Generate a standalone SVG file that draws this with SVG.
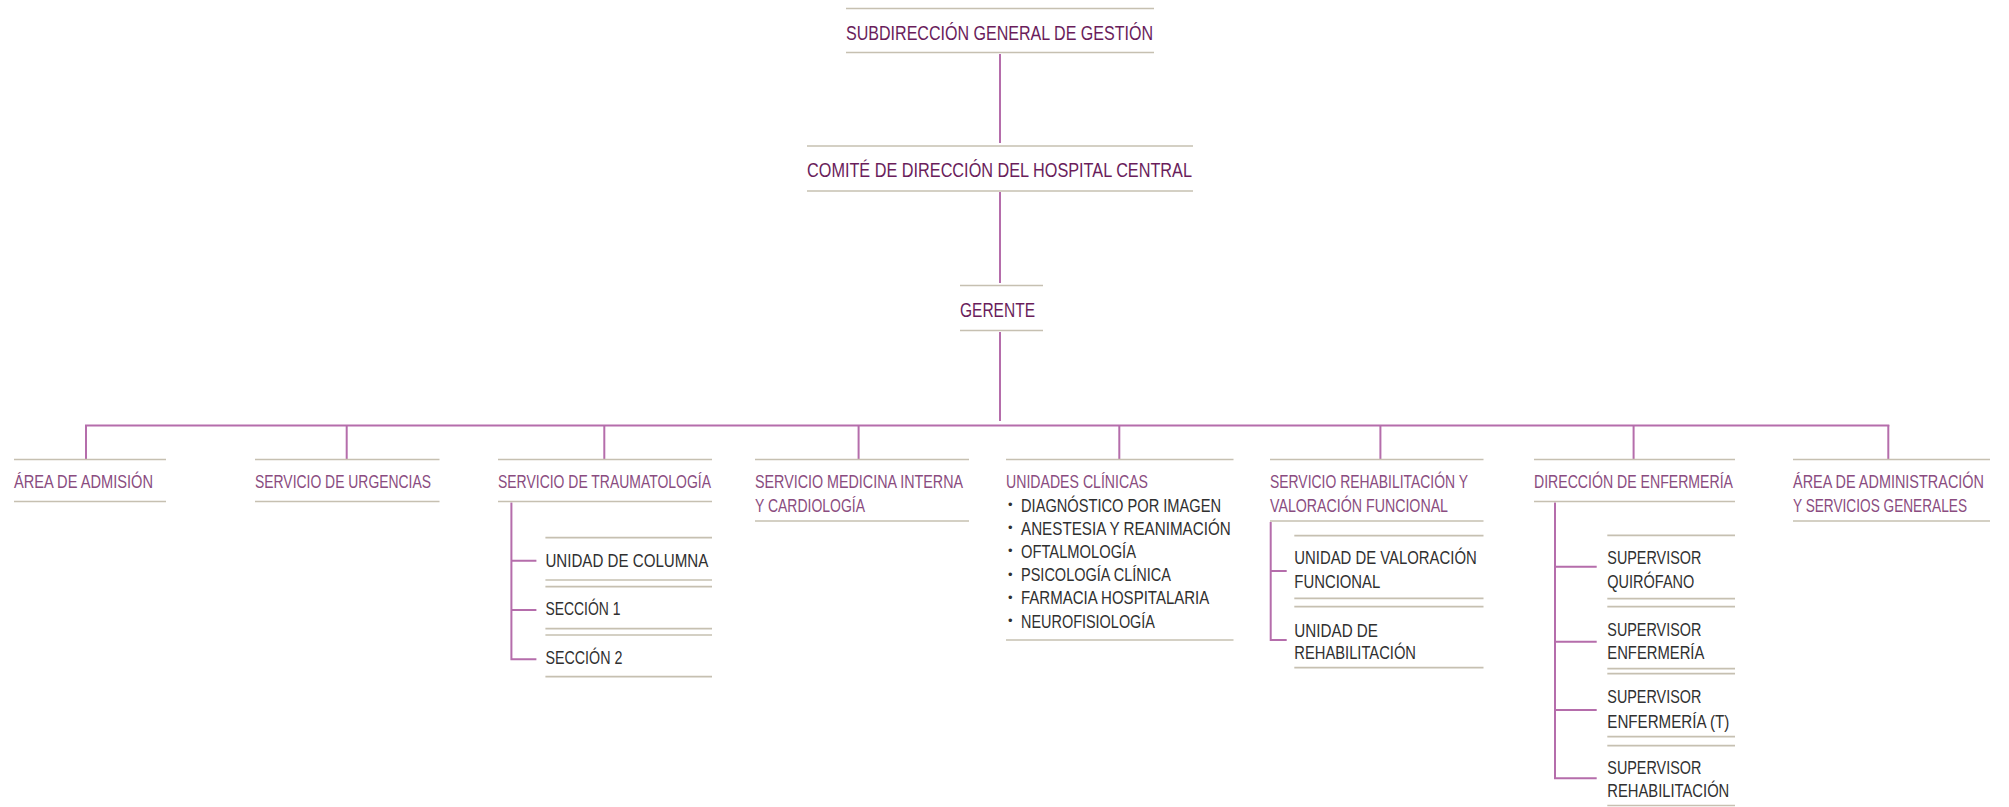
<svg xmlns="http://www.w3.org/2000/svg" width="2009" height="807" viewBox="0 0 2009 807">
<style>
.bg{fill:#ffffff}
.sep{stroke:#c6c0b1;stroke-width:1.7;fill:none}
.con{stroke:#b56dab;stroke-width:2;fill:none}
.t{font-family:"Liberation Sans Narrow","Liberation Sans",Arial,sans-serif}
.top{font-size:20px;fill:#6a1d5b}
.l2{font-size:18.5px;fill:#8a4c80}
.sub{font-size:19px;fill:#303030}
.dot{font-size:13px;fill:#303030}
</style>
<rect class="bg" x="0" y="0" width="2009" height="807"/>

<g id="connectors">
<line class="con" x1="1000" y1="54" x2="1000" y2="143"/>
<line class="con" x1="1000" y1="192" x2="1000" y2="283"/>
<line class="con" x1="1000" y1="332" x2="1000" y2="421"/>
<line class="con" x1="85" y1="425.5" x2="1889.3" y2="425.5"/>
<line class="con" x1="86" y1="425" x2="86" y2="459"/>
<line class="con" x1="346.7" y1="425" x2="346.7" y2="459"/>
<line class="con" x1="604.3" y1="425" x2="604.3" y2="459"/>
<line class="con" x1="858.6" y1="425" x2="858.6" y2="459"/>
<line class="con" x1="1119.3" y1="425" x2="1119.3" y2="459"/>
<line class="con" x1="1380.4" y1="425" x2="1380.4" y2="459"/>
<line class="con" x1="1633.6" y1="425" x2="1633.6" y2="459"/>
<line class="con" x1="1888.3" y1="425" x2="1888.3" y2="459"/>
<path class="con" d="M511.4 502.5 V659.3 M511.4 560.7 H536.4 M511.4 610 H536.4 M510.4 659.3 H536.4"/>
<path class="con" d="M1270.7 522 V640 M1270.7 571 H1286.7 M1269.7 640 H1286.7"/>
<path class="con" d="M1555 502.5 V778.3 M1555 566.7 H1596.7 M1555 641.7 H1596.7 M1555 710 H1596.7 M1554 778.3 H1596.7"/>
</g>

<g id="subdireccion">
<line class="sep" x1="846" y1="8.5" x2="1154" y2="8.5"/>
<text class="t top" x="846" y="40" textLength="307" lengthAdjust="spacingAndGlyphs">SUBDIRECCIÓN GENERAL DE GESTIÓN</text>
<line class="sep" x1="846" y1="52.5" x2="1154" y2="52.5"/>
</g>

<g id="comite">
<line class="sep" x1="807" y1="146" x2="1193" y2="146"/>
<text class="t top" x="807" y="176.5" textLength="385" lengthAdjust="spacingAndGlyphs">COMITÉ DE DIRECCIÓN DEL HOSPITAL CENTRAL</text>
<line class="sep" x1="807" y1="191" x2="1193" y2="191"/>
</g>

<g id="gerente">
<line class="sep" x1="960" y1="285.5" x2="1043" y2="285.5"/>
<text class="t top" x="960" y="317" textLength="75" lengthAdjust="spacingAndGlyphs">GERENTE</text>
<line class="sep" x1="960" y1="330.5" x2="1043" y2="330.5"/>
</g>

<g id="admision">
<line class="sep" x1="14" y1="459.5" x2="166" y2="459.5"/>
<text class="t l2" x="14" y="488" textLength="139" lengthAdjust="spacingAndGlyphs">ÁREA DE ADMISIÓN</text>
<line class="sep" x1="14" y1="501.5" x2="166" y2="501.5"/>
</g>

<g id="urgencias">
<line class="sep" x1="255" y1="459.5" x2="439.5" y2="459.5"/>
<text class="t l2" x="255" y="488" textLength="176" lengthAdjust="spacingAndGlyphs">SERVICIO DE URGENCIAS</text>
<line class="sep" x1="255" y1="501.5" x2="439.5" y2="501.5"/>
</g>

<g id="traumatologia">
<line class="sep" x1="498" y1="459.5" x2="712" y2="459.5"/>
<text class="t l2" x="498" y="488" textLength="213" lengthAdjust="spacingAndGlyphs">SERVICIO DE TRAUMATOLOGÍA</text>
<line class="sep" x1="498" y1="501.5" x2="712" y2="501.5"/>
</g>

<g id="columna">
<line class="sep" x1="545.4" y1="537.7" x2="712" y2="537.7"/>
<text class="t sub" x="545.4" y="566.7" textLength="163" lengthAdjust="spacingAndGlyphs">UNIDAD DE COLUMNA</text>
<line class="sep" x1="545.4" y1="580" x2="712" y2="580"/>
</g>

<g id="seccion1">
<line class="sep" x1="545.4" y1="586.7" x2="712" y2="586.7"/>
<text class="t sub" x="545.4" y="615" textLength="75" lengthAdjust="spacingAndGlyphs">SECCIÓN 1</text>
<line class="sep" x1="545.4" y1="628.7" x2="712" y2="628.7"/>
</g>

<g id="seccion2">
<line class="sep" x1="545.4" y1="635" x2="712" y2="635"/>
<text class="t sub" x="545.4" y="664" textLength="77" lengthAdjust="spacingAndGlyphs">SECCIÓN 2</text>
<line class="sep" x1="545.4" y1="676.7" x2="712" y2="676.7"/>
</g>

<g id="medicina">
<line class="sep" x1="755" y1="459.5" x2="969" y2="459.5"/>
<text class="t l2" x="755" y="488" textLength="208" lengthAdjust="spacingAndGlyphs">SERVICIO MEDICINA INTERNA</text>
<text class="t l2" x="755" y="511.5" textLength="110" lengthAdjust="spacingAndGlyphs">Y CARDIOLOGÍA</text>
<line class="sep" x1="755" y1="521" x2="969" y2="521"/>
</g>

<g id="unidades-clinicas">
<line class="sep" x1="1006" y1="459.5" x2="1233.5" y2="459.5"/>
<text class="t l2" x="1006" y="488" textLength="142" lengthAdjust="spacingAndGlyphs">UNIDADES CLÍNICAS</text>
<g class="t">
<text class="dot" x="1008" y="509">•</text><text class="sub" x="1021" y="511.5" textLength="200" lengthAdjust="spacingAndGlyphs">DIAGNÓSTICO POR IMAGEN</text>
<text class="dot" x="1008" y="532.2">•</text><text class="sub" x="1021" y="534.7" textLength="209.7" lengthAdjust="spacingAndGlyphs">ANESTESIA Y  REANIMACIÓN</text>
<text class="dot" x="1008" y="555.4">•</text><text class="sub" x="1021" y="557.9" textLength="115" lengthAdjust="spacingAndGlyphs">OFTALMOLOGÍA</text>
<text class="dot" x="1008" y="578.6">•</text><text class="sub" x="1021" y="581.1" textLength="150" lengthAdjust="spacingAndGlyphs">PSICOLOGÍA CLÍNICA</text>
<text class="dot" x="1008" y="601.8">•</text><text class="sub" x="1021" y="604.3" textLength="188.3" lengthAdjust="spacingAndGlyphs">FARMACIA HOSPITALARIA</text>
<text class="dot" x="1008" y="625">•</text><text class="sub" x="1021" y="627.5" textLength="134" lengthAdjust="spacingAndGlyphs">NEUROFISIOLOGÍA</text>
</g>
<line class="sep" x1="1006" y1="640" x2="1233.5" y2="640"/>
</g>

<g id="rehabilitacion">
<line class="sep" x1="1270" y1="459.5" x2="1483.5" y2="459.5"/>
<text class="t l2" x="1270" y="488" textLength="198" lengthAdjust="spacingAndGlyphs">SERVICIO REHABILITACIÓN Y</text>
<text class="t l2" x="1270" y="511.5" textLength="178" lengthAdjust="spacingAndGlyphs">VALORACIÓN FUNCIONAL</text>
<line class="sep" x1="1270" y1="521" x2="1483.5" y2="521"/>
</g>

<g id="valoracion-funcional">
<line class="sep" x1="1294.3" y1="535.7" x2="1483.5" y2="535.7"/>
<text class="t sub" x="1294.3" y="564.3" textLength="182.4" lengthAdjust="spacingAndGlyphs">UNIDAD DE VALORACIÓN</text>
<text class="t sub" x="1294.3" y="587.7" textLength="86" lengthAdjust="spacingAndGlyphs">FUNCIONAL</text>
<line class="sep" x1="1294.3" y1="598.3" x2="1483.5" y2="598.3"/>
</g>

<g id="unidad-rehabilitacion">
<line class="sep" x1="1294.3" y1="606.7" x2="1483.5" y2="606.7"/>
<text class="t sub" x="1294.3" y="636.7" textLength="83.7" lengthAdjust="spacingAndGlyphs">UNIDAD DE</text>
<text class="t sub" x="1294.3" y="659.3" textLength="121.7" lengthAdjust="spacingAndGlyphs">REHABILITACIÓN</text>
<line class="sep" x1="1294.3" y1="667.7" x2="1483.5" y2="667.7"/>
</g>

<g id="enfermeria">
<line class="sep" x1="1534" y1="459.5" x2="1735" y2="459.5"/>
<text class="t l2" x="1534" y="488" textLength="199" lengthAdjust="spacingAndGlyphs">DIRECCIÓN DE ENFERMERÍA</text>
<line class="sep" x1="1534" y1="501.5" x2="1735" y2="501.5"/>
</g>

<g id="sup-quirofano">
<line class="sep" x1="1607.3" y1="535.3" x2="1735" y2="535.3"/>
<text class="t sub" x="1607.3" y="564.3" textLength="94" lengthAdjust="spacingAndGlyphs">SUPERVISOR</text>
<text class="t sub" x="1607.3" y="587.7" textLength="87" lengthAdjust="spacingAndGlyphs">QUIRÓFANO</text>
<line class="sep" x1="1607.3" y1="598.7" x2="1735" y2="598.7"/>
</g>

<g id="sup-enfermeria">
<line class="sep" x1="1607.3" y1="606.7" x2="1735" y2="606.7"/>
<text class="t sub" x="1607.3" y="636" textLength="94" lengthAdjust="spacingAndGlyphs">SUPERVISOR</text>
<text class="t sub" x="1607.3" y="659" textLength="97" lengthAdjust="spacingAndGlyphs">ENFERMERÍA</text>
<line class="sep" x1="1607.3" y1="668.7" x2="1735" y2="668.7"/>
</g>

<g id="sup-enfermeria-t">
<line class="sep" x1="1607.3" y1="673.7" x2="1735" y2="673.7"/>
<text class="t sub" x="1607.3" y="703.3" textLength="94" lengthAdjust="spacingAndGlyphs">SUPERVISOR</text>
<text class="t sub" x="1607.3" y="727.7" textLength="122" lengthAdjust="spacingAndGlyphs">ENFERMERÍA (T)</text>
<line class="sep" x1="1607.3" y1="736.7" x2="1735" y2="736.7"/>
</g>

<g id="sup-rehabilitacion">
<line class="sep" x1="1607.3" y1="745.7" x2="1735" y2="745.7"/>
<text class="t sub" x="1607.3" y="774" textLength="94" lengthAdjust="spacingAndGlyphs">SUPERVISOR</text>
<text class="t sub" x="1607.3" y="796.7" textLength="122" lengthAdjust="spacingAndGlyphs">REHABILITACIÓN</text>
<line class="sep" x1="1607.3" y1="805.5" x2="1735" y2="805.5"/>
</g>

<g id="administracion">
<line class="sep" x1="1793" y1="459.5" x2="1990" y2="459.5"/>
<text class="t l2" x="1793" y="488" textLength="191" lengthAdjust="spacingAndGlyphs">ÁREA DE ADMINISTRACIÓN</text>
<text class="t l2" x="1793" y="511.5" textLength="174" lengthAdjust="spacingAndGlyphs">Y SERVICIOS GENERALES</text>
<line class="sep" x1="1793" y1="521" x2="1990" y2="521"/>
</g>
</svg>
